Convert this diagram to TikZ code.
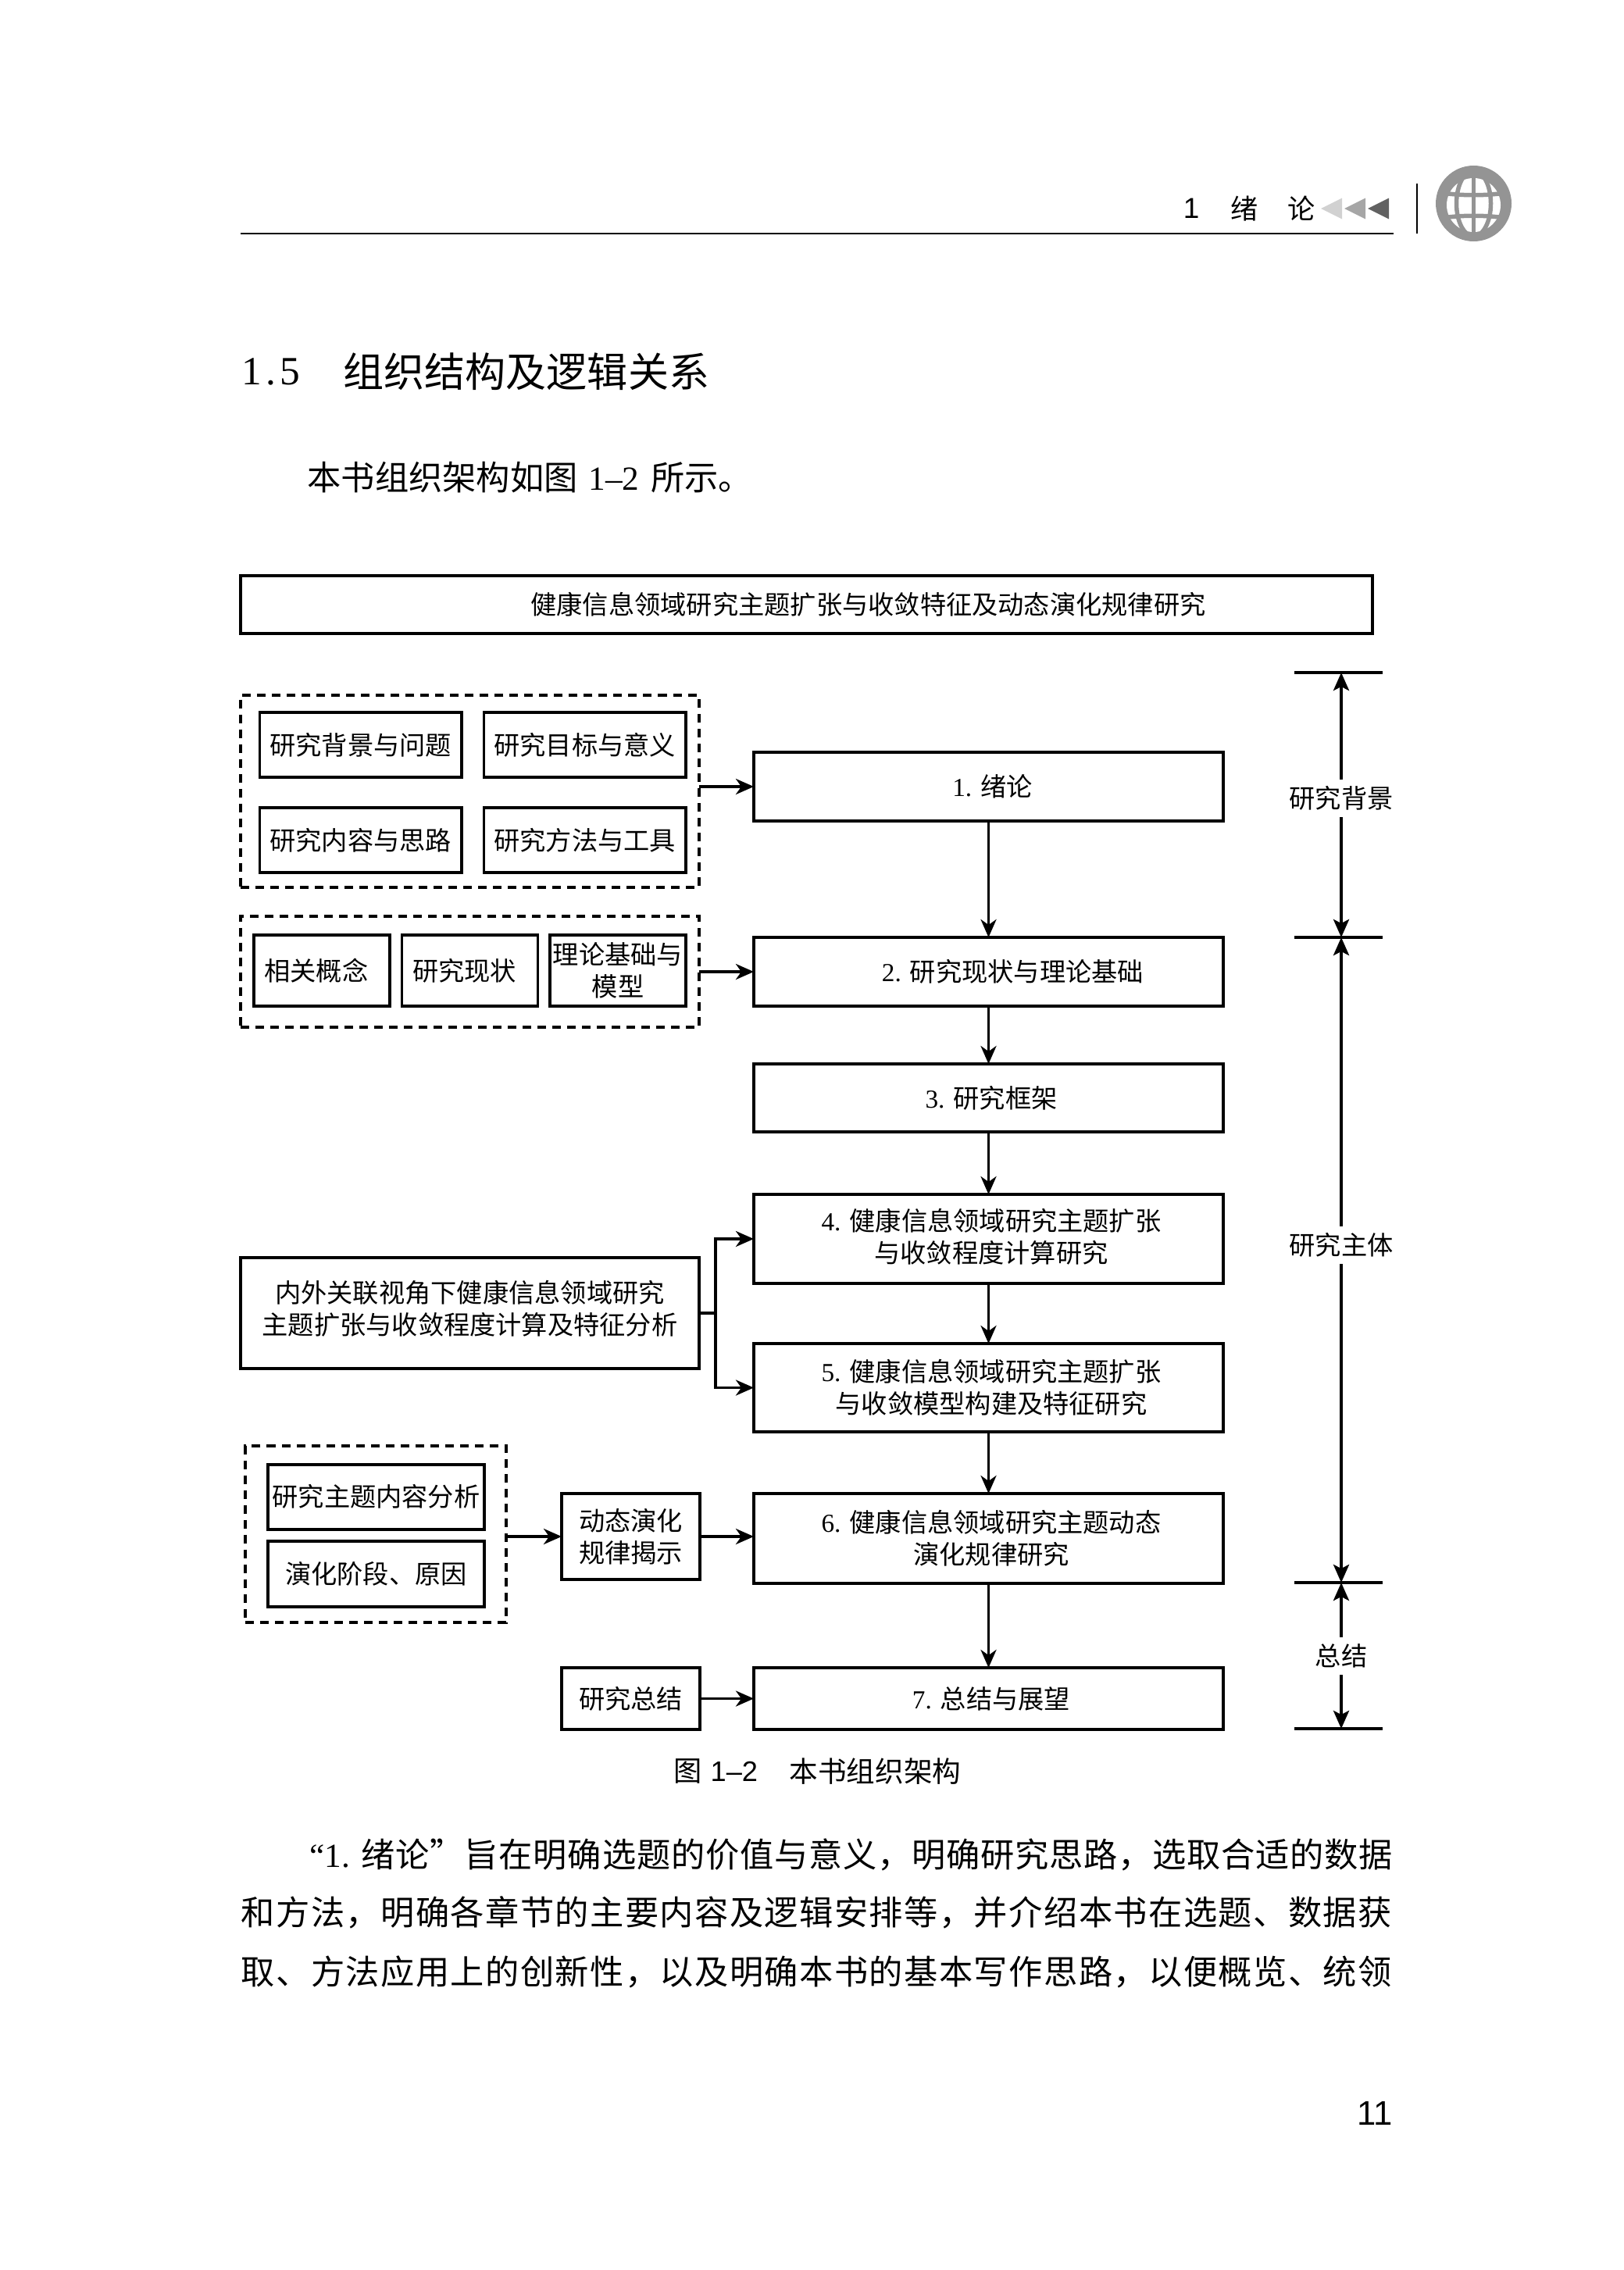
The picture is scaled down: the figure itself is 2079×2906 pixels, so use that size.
\documentclass[tikz,border=0pt]{standalone}
\usepackage{fontspec}
\setmainfont{Noto Sans CJK SC}
\newfontfamily\romanlat{Liberation Serif}
\newfontfamily\helvlat{Liberation Sans}
\newfontfamily\loosecjk[LetterSpace=3.3]{Noto Sans CJK SC}
\newfontfamily\slightcjk[LetterSpace=1.8]{Noto Sans CJK SC}
\usetikzlibrary{arrows.meta,calc}
\newcommand{\labelsize}{\fontsize{9.45}{11.6}\selectfont}
\newcommand{\bodysize}{\fontsize{12.3}{14}\selectfont}
\newcommand{\nudge}{\hspace*{0.07cm}}
\tikzset{
  sized/.style 2 args={minimum width=#1*0.01cm, minimum height=#2*0.01cm},
  mainbox/.style={draw, line width=0.04cm, outer sep=0pt, inner sep=0pt, align=center, font=\labelsize},
  subbox/.style={mainbox, line width=0.035cm},
  groupbox/.style={draw, line width=0.035cm, outer sep=0pt, inner sep=0pt, dash pattern=on 0.11cm off 0.08cm},
  flow/.style={line width=0.035cm, -{Stealth[length=0.23cm,width=0.2cm,inset=0.07cm]}},
  span/.style={line width=0.04cm, -{Stealth[length=0.23cm,width=0.2cm,inset=0.05cm]}},
  spanlabel/.style={outer sep=0pt, inner sep=0pt, minimum height=0.48cm, font=\labelsize},
  bodyline/.style={anchor=west, inner sep=0pt, font=\bodysize},
  globeline/.style={draw=black!42, line width=0.055cm}
}
\begin{document}
\begin{tikzpicture}[x=0.01cm,y=-0.01cm]
  \useasboundingbox (0,0) rectangle (2079,2906);
  % Page header
  \node[font=\helvlat\fontsize{10.5}{12}\selectfont] (headnum) at (1525,267) {1};
  \node[font=\fontsize{10}{12}\selectfont] (headone) at (1593,267) {绪};
  \node[font=\fontsize{10}{12}\selectfont] (headtwo) at (1666,267) {论};
  \foreach \tipx/\tone in {1691/18,1721/35,1751/62}
    \fill[black!\tone] (\tipx,267) -- ({\tipx+27},253.5) -- ({\tipx+27},280.5) -- cycle;
  \draw[line width=0.02cm] (308,299) -- (1784,299);
  \draw[line width=0.02cm] (1813.5,235) -- (1813.5,299);
  % Globe
  \begin{scope}[shift={(1886.5,260.5)}]
    \fill[black!42] (0,0) circle (48.5);
    \fill[white] (0,2) circle (34.5);
    \draw[globeline] (0,-38) -- (0,38);
    \draw[globeline] (0,0) ellipse (22 and 42);
    \draw[globeline] (-36,-13) .. controls (-15,-10) and (15,-10) .. (36,-13);
    \draw[globeline] (-36,18) .. controls (-15,15) and (15,15) .. (36,18);
  \end{scope}
  % Heading and first line
  \node[anchor=west, inner sep=0pt, font=\romanlat\fontsize{14.6}{16}\selectfont] (secnum) at (309,476) {1\hspace{1.5pt}.\hspace{1.5pt}5};
  \node[anchor=west, inner sep=0pt, font=\fontsize{14.8}{16}\selectfont] (sectitle) at (439,476) {组织结构及逻辑关系};
  \node[bodyline] (intro) at (393,611) {本书组织架构如图\hspace{0.04cm} {\romanlat 1–2}\hspace{0.05cm} 所示。};
  % Title box
  \node[mainbox, sized={1449}{74}] (title) at (1032.5,774) {\hspace*{1.58cm}健康信息领域研究主题扩张与收敛特征及动态演化规律研究};
  % Left groups
  \node[groupbox, sized={587}{246}] (groupA) at (601.5,1013) {};
  \node[subbox, sized={258.5}{83}] (bgQ) at (461.75,953.5) {研究背景与问题};
  \node[subbox, sized={258.5}{83}] (aimQ) at (748.75,953.5) {研究目标与意义};
  \node[subbox, sized={258.5}{83}] (ideaQ) at (461.75,1075.5) {研究内容与思路};
  \node[subbox, sized={258.5}{83}] (toolQ) at (748.75,1075.5) {研究方法与工具};
  \node[groupbox, sized={587}{142}] (groupB) at (601.5,1244) {};
  \node[subbox, sized={174}{91}] (concept) at (412,1242.5) {相关概念\hspace*{0.14cm}};
  \node[subbox, sized={174}{91}] (status) at (601.5,1242.5) {研究现状\hspace*{0.14cm}};
  \node[subbox, sized={174}{91}] (theory) at (791,1242.5) {理论基础与\\模型};
  \node[mainbox, sized={587}{142}] (calcbox) at (601.5,1681) {内外关联视角下健康信息领域研究\\主题扩张与收敛程度计算及特征分析\rule[-0.15cm]{0pt}{0pt}};
  \node[groupbox, sized={334}{226}] (groupC) at (481,1964) {};
  \node[mainbox, sized={277}{83}] (content) at (481.5,1916) {研究主题内容分析};
  \node[mainbox, sized={277}{84}] (stage) at (481.5,2015) {演化阶段、原因};
  \node[subbox, sized={177}{110}] (dyn) at (807.5,1967) {动态演化\\规律揭示};
  \node[subbox, sized={177}{79}] (summ) at (807.5,2174.5) {研究总结};
  % Chapters
  \node[mainbox, sized={601}{88}] (chA) at (1265.5,1007) {\hspace*{0.1cm}{\romanlat 1. }绪论};
  \node[mainbox, sized={601}{88}] (chB) at (1265.5,1244) {\hspace*{0.62cm}{\romanlat 2. }研究现状与理论基础};
  \node[mainbox, sized={601}{87}] (chC) at (1265.5,1405.5) {\nudge{\romanlat 3. }研究框架};
  \node[mainbox, sized={601}{114}] (chD) at (1265.5,1586) {\nudge{\romanlat 4. }健康信息领域研究主题扩张\\\nudge 与收敛程度计算研究\rule[-0.08cm]{0pt}{0pt}};
  \node[mainbox, sized={601}{113}] (chE) at (1265.5,1776.5) {\nudge{\romanlat 5. }健康信息领域研究主题扩张\\\nudge 与收敛模型构建及特征研究};
  \node[mainbox, sized={601}{115}] (chF) at (1265.5,1969.5) {\nudge{\romanlat 6. }健康信息领域研究主题动态\\\nudge 演化规律研究};
  \node[mainbox, sized={601}{79}] (chG) at (1265.5,2174.5) {\nudge{\romanlat 7. }总结与展望};
  % Flow arrows
  \foreach \from/\to in {chA/chB,chB/chC,chC/chD,chD/chE,chE/chF,chF/chG}
    \draw[flow] (\from.south) -- (\to.north);
  \draw[flow] (groupA.east |- chA.west) -- (chA.west);
  \draw[flow] (groupB.east |- chB.west) -- (chB.west);
  \draw[flow] (calcbox.east) -- ++(21,0) |- (chD.west);
  \draw[flow] (calcbox.east) -- ++(21,0) |- (chE.west);
  \draw[flow] (groupC.east |- dyn.west) -- (dyn.west);
  \draw[flow] (dyn.east) -- (dyn.east -| chF.west);
  \draw[flow] (summ.east) -- (chG.west);
  % Right scale
  \foreach \barname/\yy in {barA/861,barB/1200,barC/2026,barD/2213} {
    \coordinate (\barname) at (1717,\yy);
    \draw[line width=0.04cm] (\barname) ++(-60,0) -- ++(113,0);
  }
  \node[spanlabel] (partA) at (1717,1022) {研究背景};
  \node[spanlabel] (partB) at (1717,1594) {研究主体};
  \node[spanlabel] (partC) at (1717,2120) {总结};
  \foreach \part/\upper/\lower in {partA/barA/barB,partB/barB/barC,partC/barC/barD} {
    \draw[span] (\part.north) -- (\upper);
    \draw[span] (\part.south) -- (\lower);
  }
  % Caption, text lines, page number
  \node[anchor=west, inner sep=0pt, font=\fontsize{10.3}{12}\selectfont] (capfig) at (862,2268) {图};
  \node[anchor=west, inner sep=0pt, font=\helvlat\fontsize{10.3}{12}\selectfont] (capnum) at (909,2268) {1–2};
  \node[anchor=west, inner sep=0pt, font=\fontsize{10.4}{12}\selectfont] (captext) at (1010,2268) {本书组织架构};
  \node[bodyline] (lineA) at (396,2374) {{\romanlat “1. }\slightcjk 绪论”旨在明确选题的价值与意义，明确研究思路，选取合适的数据};
  \node[bodyline] (lineB) at (308,2448) {\loosecjk 和方法，明确各章节的主要内容及逻辑安排等，并介绍本书在选题、数据获};
  \node[bodyline] (lineC) at (308,2524) {\loosecjk 取、方法应用上的创新性，以及明确本书的基本写作思路，以便概览、统领};
  \node[anchor=east, inner sep=0pt, font=\helvlat\fontsize{12.4}{14}\selectfont] (pagenum) at (1783,2705) {11};
\end{tikzpicture}
\end{document}
